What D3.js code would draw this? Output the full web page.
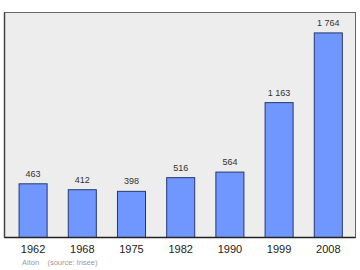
<!DOCTYPE html>
<html>
<head>
<meta charset="utf-8">
<script src="https://cdn.jsdelivr.net/npm/d3@7"></script>
<style>
  body { margin: 0; background: #fff; }
  text { font-family: "Liberation Sans", Arial, sans-serif; }
</style>
</head>
<body>
<svg id="chart" width="360" height="270"></svg>
<script>
const years = ['1962', '1968', '1975', '1982', '1990', '1999', '2008'];
const population = [463, 412, 398, 516, 564, 1163, 1764];
const valueLabels = ['463', '412', '398', '516', '564', '1 163', '1 764'];
const sourceText = 'Aiton    (source: Insee)';

const svg = d3.select('#chart');

const frameLeft = 4.5, frameRight = 355.5, frameTop = 12.5, frameBottom = 237.5;

const x = d3.scaleBand()
    .domain(years)
    .range([8.5, 352.9])
    .paddingInner(0.43)
    .paddingOuter(0.215);

const y = d3.scaleLinear()
    .domain([0, 1940])
    .range([frameBottom, frameTop]);

// plot frame
svg.append('rect')
    .attr('x', frameLeft)
    .attr('y', frameTop)
    .attr('width', frameRight - frameLeft)
    .attr('height', frameBottom - frameTop)
    .attr('fill', '#ededed')
    .attr('stroke', '#666')
    .attr('stroke-width', 1);

svg.append('line')
    .attr('x1', frameLeft).attr('x2', frameLeft)
    .attr('y1', frameTop).attr('y2', frameBottom)
    .attr('stroke', '#444').attr('stroke-width', 1.5);

const data = years.map((yr, i) => ({ year: yr, value: population[i], label: valueLabels[i] }));

svg.selectAll('rect.bar')
    .data(data)
    .enter()
    .append('rect')
    .attr('class', 'bar')
    .attr('x', d => x(d.year))
    .attr('y', d => y(d.value))
    .attr('width', x.bandwidth())
    .attr('height', d => frameBottom - y(d.value))
    .attr('fill', '#6f97ff')
    .attr('stroke', '#26386e')
    .attr('stroke-width', 1);

svg.selectAll('text.val')
    .data(data)
    .enter()
    .append('text')
    .attr('class', 'val')
    .attr('x', d => x(d.year) + x.bandwidth() / 2)
    .attr('y', d => y(d.value) - 7)
    .attr('text-anchor', 'middle')
    .attr('font-size', '9px')
    .attr('fill', '#333')
    .text(d => d.label);

// bottom axis line
svg.append('line')
    .attr('x1', frameLeft).attr('x2', frameRight)
    .attr('y1', frameBottom).attr('y2', frameBottom)
    .attr('stroke', '#222').attr('stroke-width', 1.5);

svg.selectAll('text.year')
    .data(years)
    .enter()
    .append('text')
    .attr('class', 'year')
    .attr('x', d => x(d) + x.bandwidth() / 2)
    .attr('y', 253)
    .attr('text-anchor', 'middle')
    .attr('font-size', '11px')
    .attr('fill', '#222')
    .text(d => d);

svg.append('text')
    .attr('x', 22)
    .attr('y', 265)
    .attr('font-size', '7.5px')
    .attr('fill', '#9a9a9a')
    .attr('xml:space', 'preserve')
    .style('white-space', 'pre')
    .text(sourceText);
</script>
</body>
</html>
